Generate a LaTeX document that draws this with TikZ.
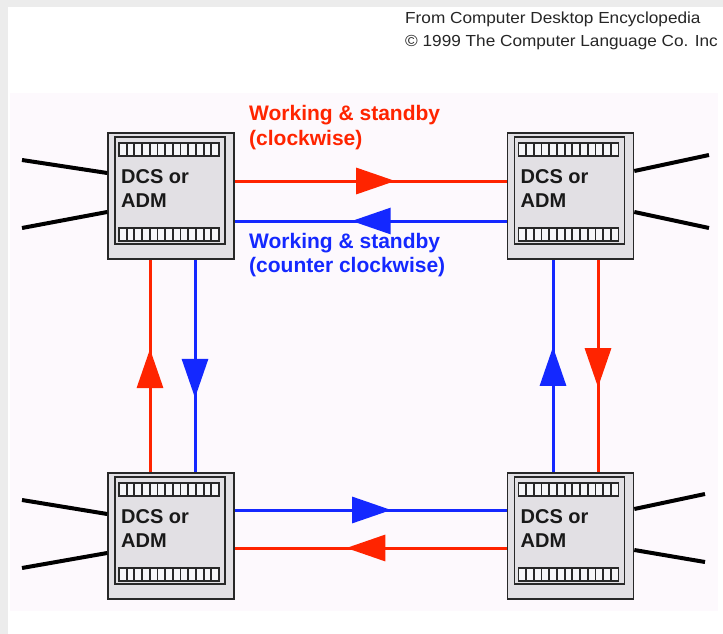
\documentclass[tikz,border=0pt]{standalone}
\usepackage{fontspec}
\setmainfont{Liberation Sans}
\usetikzlibrary{arrows.meta,decorations.markings}

\definecolor{ringred}{RGB}{255,36,0}
\definecolor{ringblue}{RGB}{20,40,255}
\definecolor{panelbg}{RGB}{253,249,253}
\definecolor{framegrey}{RGB}{236,236,236}
\definecolor{boxgrey}{RGB}{226,224,228}
\definecolor{edgegrey}{RGB}{40,40,40}
\definecolor{cellwhite}{RGB}{246,246,248}

% One DCS/ADM shelf: outer case, inner panel, two card strips and its label
\newcommand\dcsbox[3]{%
  \node[dcscase] (#1) at (#2,#3) {};
  \draw[dcsedge, fill=boxgrey] ({#2-56},{#3-59}) rectangle ({#2+54},{#3+48});
  \foreach \sy in {-53,32}{%
    \draw[dcsedge, fill=cellwhite] ({#2-52},{#3+\sy}) rectangle ({#2+48},{#3+\sy+13});
    \foreach \k in {1,...,12}
      \draw[dcsedge, line width=1.8pt] ({#2-52+\k*100/13},{#3+\sy}) -- ++(0,13);
  }%
  \node[dcstext] (#1-l1) at ({#2-50},{#3-13}) {DCS or};
  \node[dcstext] (#1-l2) at ({#2-50},{#3+11}) {ADM};
}

\begin{document}
\begin{tikzpicture}[x=1pt, y=-1pt,
  dcscase/.style={draw=edgegrey, line width=1.6pt, fill=boxgrey,
    minimum width=126pt, minimum height=126pt, inner sep=0pt},
  dcsedge/.style={draw=edgegrey, line width=1.5pt},
  dcstext/.style={anchor=base west, inner sep=0pt,
    font=\fontsize{20}{22}\selectfont\bfseries, text=black!90},
  hdr/.style={anchor=base west, inner sep=0pt,
    font=\fontsize{16}{18}\selectfont, text=black!85},
  ringlabel/.style={anchor=base west, inner sep=0pt,
    font=\fontsize{21}{23}\selectfont\bfseries},
  redwire/.style={draw=ringred, line width=3pt},
  bluewire/.style={draw=ringblue, line width=3pt},
  port/.style={draw=black, line width=4pt},
  mid arrow/.style={postaction={decorate}, decoration={markings,
    mark=at position #1 with {\arrow{Triangle[length=39pt,width=26pt]}}}}
]
\useasboundingbox (0,0) rectangle (723,634);

% background and drawing panel
\fill[framegrey] (0,0) rectangle (723,634);
\fill[white] (8,7) rectangle (723,634);
\fill[panelbg] (10,93) rectangle (718,611);

% source note
\node[hdr] (src1) at (405,24) {\scalebox{1.075}[1]{From Computer Desktop Encyclopedia}};
\node[hdr] (src2) at (405,47) {\scalebox{1.075}[1]{© 1999 The Computer Language Co. Inc}};

% the four shelves
\dcsbox{tl}{171}{196}
\dcsbox{tr}{570.5}{196}
\dcsbox{bl}{171}{536}
\dcsbox{br}{570.5}{536}

% tributary lines
\coordinate (tl-a) at (22,160);
\coordinate (tl-b) at (22,228);
\coordinate (bl-a) at (22,500);
\coordinate (bl-b) at (22,568);
\coordinate (tr-a) at (709,155);
\coordinate (tr-b) at (709,228);
\coordinate (br-a) at (705,494);
\coordinate (br-b) at (705,562);
\draw[port] (tl-a) -- ([yshift=23pt]tl.west);
\draw[port] (tl-b) -- ([yshift=-16pt]tl.west);
\draw[port] (bl-a) -- ([yshift=22pt]bl.west);
\draw[port] (bl-b) -- ([yshift=-17pt]bl.west);
\draw[port] ([yshift=25pt]tr.east) -- (tr-a);
\draw[port] ([yshift=-16pt]tr.east) -- (tr-b);
\draw[port] ([yshift=27pt]br.east) -- (br-a);
\draw[port] ([yshift=-14pt]br.east) -- (br-b);

% clockwise ring (red)
\draw[redwire, mid arrow=0.59] ([yshift=15pt]tl.east) -- ([yshift=15pt]tr.west);
\draw[redwire, mid arrow=0.60] ([xshift=27.5pt]tr.south) -- ([xshift=27.5pt]br.north);
\draw[redwire, mid arrow=0.59] ([yshift=-12pt]br.west) -- ([yshift=-12pt]bl.east);
\draw[redwire, mid arrow=0.58] ([xshift=-21pt]bl.north) -- ([xshift=-21pt]tl.south);

% counter clockwise ring (blue)
\draw[bluewire, mid arrow=0.57] ([yshift=-25pt]tr.west) -- ([yshift=-25pt]tl.east);
\draw[bluewire, mid arrow=0.65] ([xshift=24pt]tl.south) -- ([xshift=24pt]bl.north);
\draw[bluewire, mid arrow=0.575] ([yshift=26pt]bl.east) -- ([yshift=26pt]br.west);
\draw[bluewire, mid arrow=0.59] ([xshift=-17.5pt]br.north) -- ([xshift=-17.5pt]tr.south);

% ring labels
\node[ringlabel, text=ringred] (cw1) at (249,121) {Working \& standby};
\node[ringlabel, text=ringred] (cw2) at (249,145) {(clockwise)};
\node[ringlabel, text=ringblue] (ccw1) at (249,248) {Working \& standby};
\node[ringlabel, text=ringblue] (ccw2) at (249,272) {(counter clockwise)};
\end{tikzpicture}
\end{document}
